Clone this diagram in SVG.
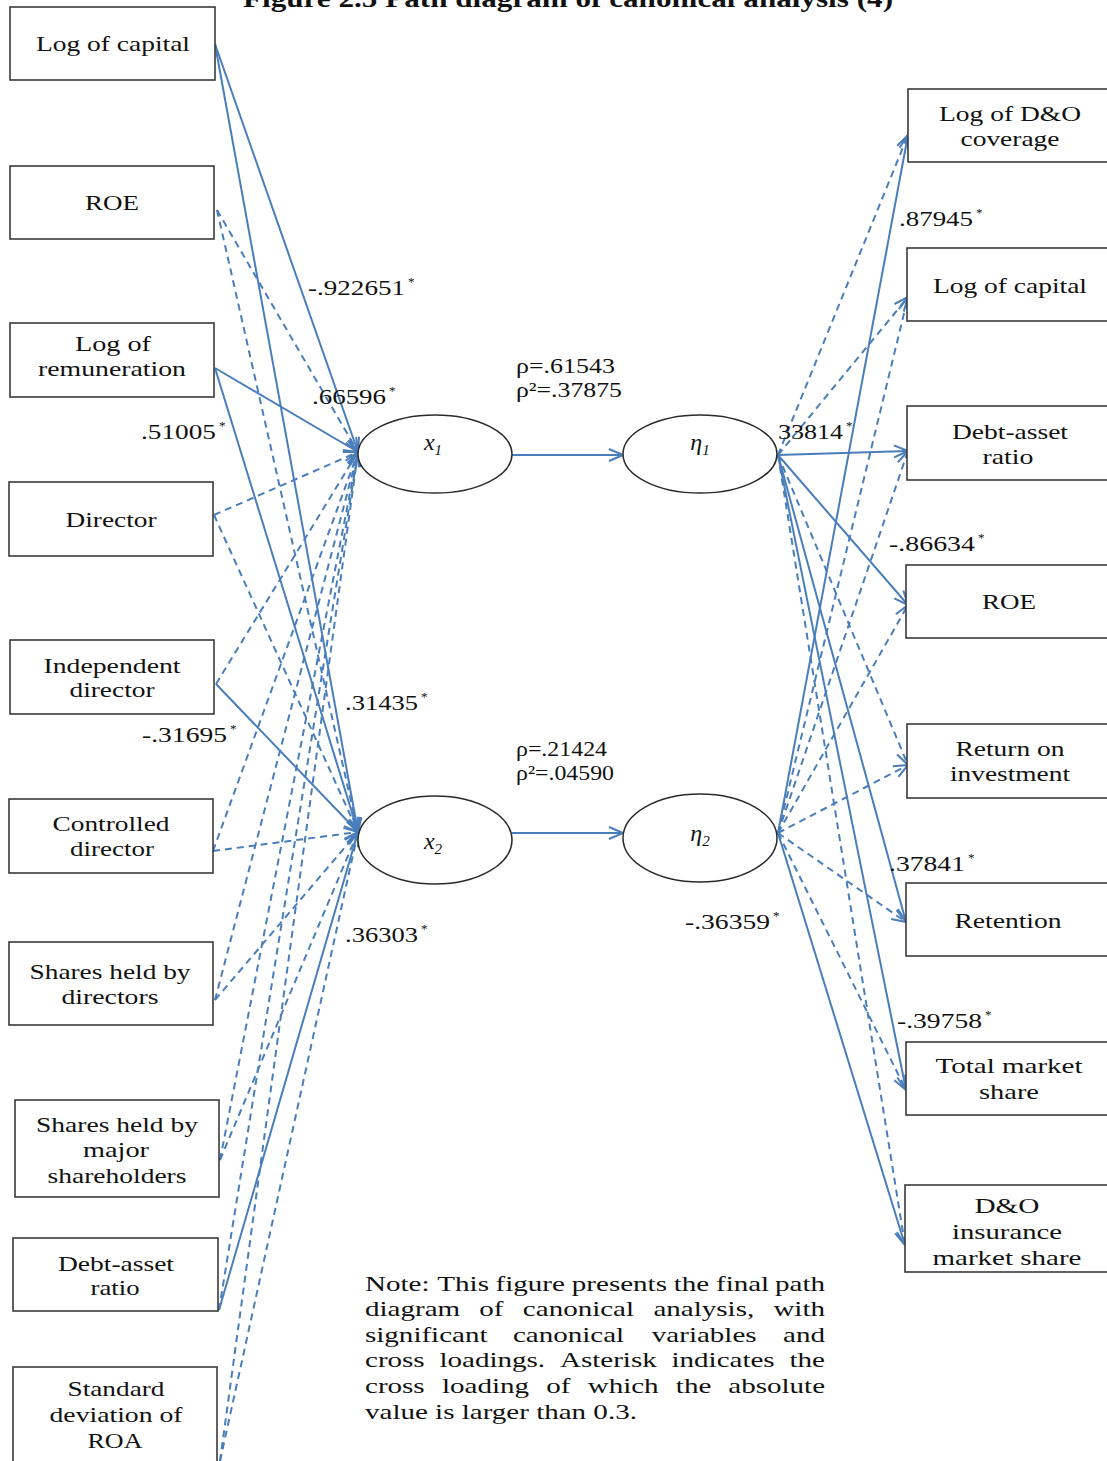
<svg xmlns="http://www.w3.org/2000/svg" width="1107" height="1461" viewBox="0 0 1107 1461">
<style>
.box{fill:#fff;stroke:#3a3a3a;stroke-width:1.6}
.ell{fill:#fff;stroke:#2a2a2a;stroke-width:1.5}
.t{font-family:"Liberation Serif","Times New Roman",serif;font-size:21px;fill:#111;text-anchor:middle}
.n{font-family:"Liberation Serif","Times New Roman",serif;font-size:21px;fill:#111}
.ast{font-size:13px}
.v{font-family:"Liberation Serif","Times New Roman",serif;font-size:24px;font-style:italic;fill:#111;text-anchor:middle}
.sub{font-size:15px}
.s{fill:none;stroke:#4A7EBB;stroke-width:2;marker-end:url(#ah)}
.d{fill:none;stroke:#4A7EBB;stroke-width:2;stroke-dasharray:7 5;marker-end:url(#ah)}
.note{font-family:"Liberation Serif","Times New Roman",serif;font-size:22px;fill:#111}
.e{text-anchor:end}
</style>
<defs>
<marker id="ah" viewBox="0 0 16 14" markerWidth="16" markerHeight="14" refX="15" refY="7" orient="auto" markerUnits="userSpaceOnUse">
<path d="M1,1 L15,7 L1,13" fill="none" stroke="#4A7EBB" stroke-width="2"/>
</marker>
</defs>
<rect x="0" y="0" width="1107" height="1461" fill="#fff"/>
<text x="568" y="7" font-family="Liberation Serif, serif" font-size="26" font-weight="bold" text-anchor="middle" textLength="650" lengthAdjust="spacingAndGlyphs" fill="#111">Figure 2.5 Path diagram of canonical analysis (4)</text>

<g id="connectors">
<line class="s" x1="215" y1="44" x2="358" y2="452"/>
<line class="s" x1="215" y1="44" x2="358" y2="832"/>
<line class="d" x1="217" y1="210" x2="358" y2="452"/>
<line class="d" x1="217" y1="210" x2="358" y2="832"/>
<line class="s" x1="215" y1="368" x2="358" y2="452"/>
<line class="s" x1="215" y1="368" x2="358" y2="832"/>
<line class="d" x1="214" y1="515" x2="358" y2="452"/>
<line class="d" x1="214" y1="515" x2="358" y2="832"/>
<line class="d" x1="216" y1="684" x2="358" y2="452"/>
<line class="s" x1="216" y1="684" x2="358" y2="832"/>
<line class="d" x1="213" y1="851" x2="358" y2="452"/>
<line class="d" x1="213" y1="851" x2="358" y2="832"/>
<line class="d" x1="215" y1="1000" x2="358" y2="452"/>
<line class="d" x1="215" y1="1000" x2="358" y2="832"/>
<line class="d" x1="220" y1="1160" x2="358" y2="452"/>
<line class="d" x1="220" y1="1160" x2="358" y2="832"/>
<line class="d" x1="219" y1="1310" x2="358" y2="452"/>
<line class="s" x1="219" y1="1310" x2="358" y2="832"/>
<line class="d" x1="220" y1="1461" x2="358" y2="452"/>
<line class="d" x1="220" y1="1461" x2="358" y2="832"/>
<line class="s" x1="512" y1="455" x2="623" y2="455"/>
<line class="s" x1="512" y1="833" x2="623" y2="833"/>
<line class="d" x1="778" y1="455" x2="908" y2="135"/>
<line class="s" x1="778" y1="833" x2="908" y2="135"/>
<line class="d" x1="778" y1="455" x2="908" y2="297"/>
<line class="d" x1="778" y1="833" x2="908" y2="297"/>
<line class="s" x1="778" y1="455" x2="908" y2="451"/>
<line class="d" x1="778" y1="833" x2="908" y2="451"/>
<line class="s" x1="778" y1="455" x2="908" y2="605"/>
<line class="d" x1="778" y1="833" x2="908" y2="605"/>
<line class="d" x1="778" y1="455" x2="908" y2="765"/>
<line class="d" x1="778" y1="833" x2="908" y2="765"/>
<line class="s" x1="778" y1="455" x2="906" y2="922"/>
<line class="d" x1="778" y1="833" x2="906" y2="922"/>
<line class="s" x1="778" y1="455" x2="906" y2="1090"/>
<line class="d" x1="778" y1="833" x2="906" y2="1090"/>
<line class="d" x1="778" y1="455" x2="905" y2="1245"/>
<line class="s" x1="778" y1="833" x2="905" y2="1245"/>
</g>

<g id="L1"><rect class="box" x="10" y="7" width="205" height="73"/><text class="t" x="113" y="51" textLength="154" lengthAdjust="spacingAndGlyphs">Log of capital</text></g>
<g id="L2"><rect class="box" x="10" y="166" width="204" height="73"/><text class="t" x="112" y="210" textLength="54" lengthAdjust="spacingAndGlyphs">ROE</text></g>
<g id="L3"><rect class="box" x="10" y="323" width="204" height="74"/><text class="t" x="113" y="351" textLength="76" lengthAdjust="spacingAndGlyphs">Log of</text><text class="t" x="112" y="376" textLength="148" lengthAdjust="spacingAndGlyphs">remuneration</text></g>
<g id="L4"><rect class="box" x="9" y="482" width="204" height="74"/><text class="t" x="111" y="527" textLength="91" lengthAdjust="spacingAndGlyphs">Director</text></g>
<g id="L5"><rect class="box" x="10" y="640" width="204" height="74"/><text class="t" x="112" y="673" textLength="137" lengthAdjust="spacingAndGlyphs">Independent</text><text class="t" x="112" y="697" textLength="85" lengthAdjust="spacingAndGlyphs">director</text></g>
<g id="L6"><rect class="box" x="9" y="799" width="204" height="74"/><text class="t" x="111" y="831" textLength="117" lengthAdjust="spacingAndGlyphs">Controlled</text><text class="t" x="112" y="856" textLength="84" lengthAdjust="spacingAndGlyphs">director</text></g>
<g id="L7"><rect class="box" x="9" y="942" width="204" height="83"/><text class="t" x="110" y="979" textLength="161" lengthAdjust="spacingAndGlyphs">Shares held by</text><text class="t" x="110" y="1004" textLength="97" lengthAdjust="spacingAndGlyphs">directors</text></g>
<g id="L8"><rect class="box" x="15" y="1100" width="204" height="97"/><text class="t" x="117" y="1132" textLength="162" lengthAdjust="spacingAndGlyphs">Shares held by</text><text class="t" x="116" y="1157" textLength="66" lengthAdjust="spacingAndGlyphs">major</text><text class="t" x="117" y="1183" textLength="139" lengthAdjust="spacingAndGlyphs">shareholders</text></g>
<g id="L9"><rect class="box" x="13" y="1238" width="205" height="73"/><text class="t" x="116" y="1271" textLength="116" lengthAdjust="spacingAndGlyphs">Debt-asset</text><text class="t" x="115" y="1295" textLength="49" lengthAdjust="spacingAndGlyphs">ratio</text></g>
<g id="L10"><rect class="box" x="13" y="1367" width="204" height="104"/><text class="t" x="116" y="1396" textLength="97" lengthAdjust="spacingAndGlyphs">Standard</text><text class="t" x="116" y="1422" textLength="133" lengthAdjust="spacingAndGlyphs">deviation of</text><text class="t" x="115" y="1448" textLength="55" lengthAdjust="spacingAndGlyphs">ROA</text></g>

<g id="X1"><ellipse class="ell" cx="435" cy="454" rx="77" ry="39"/><text class="v" x="433" y="450">x<tspan class="sub" dy="5">1</tspan></text></g>
<g id="X2"><ellipse class="ell" cx="435" cy="840" rx="77" ry="44"/><text class="v" x="433" y="849">x<tspan class="sub" dy="5">2</tspan></text></g>
<g id="E1"><ellipse class="ell" cx="700" cy="454" rx="77" ry="39"/><text class="v" x="700" y="450">η<tspan class="sub" dy="5">1</tspan></text></g>
<g id="E2"><ellipse class="ell" cx="700" cy="838" rx="77" ry="44"/><text class="v" x="700" y="841">η<tspan class="sub" dy="5">2</tspan></text></g>

<g id="R1"><rect class="box" x="908" y="89" width="205" height="73"/><text class="t" x="1010" y="121" textLength="142" lengthAdjust="spacingAndGlyphs">Log of D&amp;O</text><text class="t" x="1010" y="146" textLength="99" lengthAdjust="spacingAndGlyphs">coverage</text></g>
<g id="R2"><rect class="box" x="907" y="248" width="206" height="73"/><text class="t" x="1010" y="293" textLength="154" lengthAdjust="spacingAndGlyphs">Log of capital</text></g>
<g id="R3"><rect class="box" x="907" y="406" width="206" height="74"/><text class="t" x="1010" y="439" textLength="116" lengthAdjust="spacingAndGlyphs">Debt-asset</text><text class="t" x="1008" y="464" textLength="51" lengthAdjust="spacingAndGlyphs">ratio</text></g>
<g id="R4"><rect class="box" x="906" y="565" width="207" height="73"/><text class="t" x="1009" y="609" textLength="54" lengthAdjust="spacingAndGlyphs">ROE</text></g>
<g id="R5"><rect class="box" x="907" y="724" width="206" height="74"/><text class="t" x="1010" y="756" textLength="109" lengthAdjust="spacingAndGlyphs">Return on</text><text class="t" x="1010" y="781" textLength="120" lengthAdjust="spacingAndGlyphs">investment</text></g>
<g id="R6"><rect class="box" x="906" y="883" width="207" height="73"/><text class="t" x="1008" y="928" textLength="107" lengthAdjust="spacingAndGlyphs">Retention</text></g>
<g id="R7"><rect class="box" x="906" y="1042" width="207" height="73"/><text class="t" x="1009" y="1073" textLength="147" lengthAdjust="spacingAndGlyphs">Total market</text><text class="t" x="1009" y="1099" textLength="60" lengthAdjust="spacingAndGlyphs">share</text></g>
<g id="R8"><rect class="box" x="905" y="1185" width="208" height="87"/><text class="t" x="1007" y="1213" textLength="65" lengthAdjust="spacingAndGlyphs">D&amp;O</text><text class="t" x="1007" y="1239" textLength="110" lengthAdjust="spacingAndGlyphs">insurance</text><text class="t" x="1007" y="1265" textLength="149" lengthAdjust="spacingAndGlyphs">market share</text></g>

<g id="labels">
<text class="n" x="308" y="295"><tspan textLength="97" lengthAdjust="spacingAndGlyphs">-.922651</tspan><tspan class="ast" dx="3" dy="-9">*</tspan></text>
<text class="n" x="312" y="404"><tspan textLength="74" lengthAdjust="spacingAndGlyphs">.66596</tspan><tspan class="ast" dx="3" dy="-9">*</tspan></text>
<text class="n" x="141" y="439"><tspan textLength="75" lengthAdjust="spacingAndGlyphs">.51005</tspan><tspan class="ast" dx="3" dy="-9">*</tspan></text>
<text class="n" x="345" y="710"><tspan textLength="73" lengthAdjust="spacingAndGlyphs">.31435</tspan><tspan class="ast" dx="3" dy="-9">*</tspan></text>
<text class="n" x="142" y="742"><tspan textLength="85" lengthAdjust="spacingAndGlyphs">-.31695</tspan><tspan class="ast" dx="3" dy="-9">*</tspan></text>
<text class="n" x="345" y="942"><tspan textLength="73" lengthAdjust="spacingAndGlyphs">.36303</tspan><tspan class="ast" dx="3" dy="-9">*</tspan></text>
<text class="n" x="516" y="373" textLength="99" lengthAdjust="spacingAndGlyphs">ρ=.61543</text>
<text class="n" x="516" y="397" textLength="106" lengthAdjust="spacingAndGlyphs">ρ²=.37875</text>
<text class="n" x="516" y="756" textLength="91" lengthAdjust="spacingAndGlyphs">ρ=.21424</text>
<text class="n" x="516" y="780" textLength="98" lengthAdjust="spacingAndGlyphs">ρ²=.04590</text>
<text class="n" x="899" y="226"><tspan textLength="74" lengthAdjust="spacingAndGlyphs">.87945</tspan><tspan class="ast" dx="3" dy="-9">*</tspan></text>
<text class="n" x="778" y="439"><tspan textLength="65" lengthAdjust="spacingAndGlyphs">33814</tspan><tspan class="ast" dx="3" dy="-9">*</tspan></text>
<text class="n" x="889" y="551"><tspan textLength="86" lengthAdjust="spacingAndGlyphs">-.86634</tspan><tspan class="ast" dx="3" dy="-9">*</tspan></text>
<text class="n" x="889" y="871"><tspan textLength="76" lengthAdjust="spacingAndGlyphs">.37841</tspan><tspan class="ast" dx="3" dy="-9">*</tspan></text>
<text class="n" x="685" y="929"><tspan textLength="85" lengthAdjust="spacingAndGlyphs">-.36359</tspan><tspan class="ast" dx="3" dy="-9">*</tspan></text>
<text class="n" x="897" y="1028"><tspan textLength="85" lengthAdjust="spacingAndGlyphs">-.39758</tspan><tspan class="ast" dx="3" dy="-9">*</tspan></text>
</g>

<g id="note" transform="translate(365,0) scale(1.32,1)">
<text class="note" y="1291"><tspan x="0">Note:</tspan><tspan x="54.8">This</tspan><tspan x="98.9">figure</tspan><tspan x="156.7">presents</tspan><tspan x="233.9">the</tspan><tspan x="265.9">final</tspan><tspan class="e" x="348.5">path</tspan></text>
<text class="note" y="1316"><tspan x="0">diagram</tspan><tspan x="86.6">of</tspan><tspan x="119.6">canonical</tspan><tspan x="218.5">analysis,</tspan><tspan class="e" x="348.5">with</tspan></text>
<text class="note" y="1342"><tspan x="0">significant</tspan><tspan x="112.1">canonical</tspan><tspan x="217.3">variables</tspan><tspan class="e" x="348.5">and</tspan></text>
<text class="note" y="1367"><tspan x="0">cross</tspan><tspan x="56.4">loadings.</tspan><tspan x="147.7">Asterisk</tspan><tspan x="232.2">indicates</tspan><tspan class="e" x="348.5">the</tspan></text>
<text class="note" y="1393"><tspan x="0">cross</tspan><tspan x="58.3">loading</tspan><tspan x="137.3">of</tspan><tspan x="168.7">which</tspan><tspan x="235.5">the</tspan><tspan class="e" x="348.5">absolute</tspan></text>
<text class="note" y="1419" x="0">value is larger than 0.3.</text>
</g>
</svg>
